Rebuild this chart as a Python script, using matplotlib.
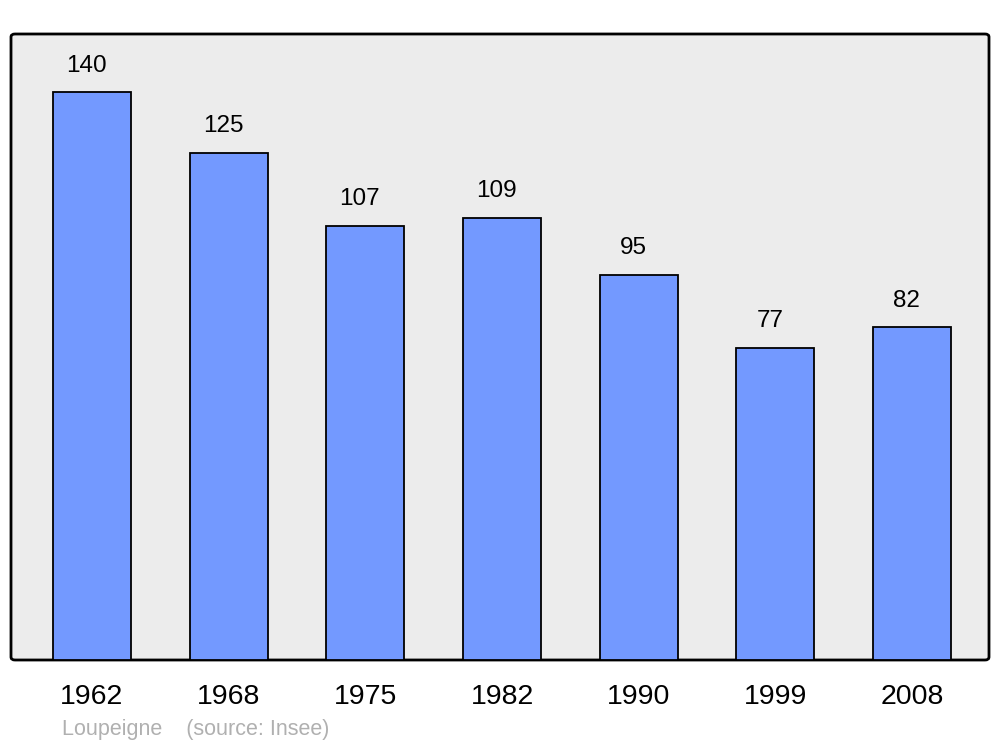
import matplotlib.pyplot as plt
from matplotlib.patches import FancyBboxPatch

years = ["1962", "1968", "1975", "1982", "1990", "1999", "2008"]
population = [140, 125, 107, 109, 95, 77, 82]

plt.rcParams["font.family"] = ["Liberation Sans", "DejaVu Sans"]

W, H = 1000, 747
fig = plt.figure(figsize=(W / 100, H / 100), dpi=100)

# axes box in pixel coordinates (left, top, right, bottom)
left, top, right, bottom = 11, 34, 989, 660
ax = fig.add_axes([left / W, 1 - bottom / H, (right - left) / W, (bottom - top) / H])
ax.set_zorder(2)

frame = FancyBboxPatch(
    (left / W, 1 - bottom / H), (right - left) / W, (bottom - top) / H,
    boxstyle="round,pad=0,rounding_size=0.004",
    transform=fig.transFigure, facecolor="#ececec", edgecolor="black",
    linewidth=2, zorder=0,
)
fig.patches.append(frame)
ax.set_facecolor("none")
for s in ax.spines.values():
    s.set_visible(False)

step = 136.67
x = list(range(len(years)))
ax.bar(x, population, width=78 / step, color="#7399ff", edgecolor="black",
       linewidth=1.3, zorder=2)
for xi, v in zip(x, population):
    ax.annotate(str(v), (xi, v), xytext=(-4, 19), textcoords="offset points",
                ha="center", va="center", fontsize=17.5)

ax.set_xlim((left - 92) / step, (right - 92) / step)
ax.set_ylim(0, 140 * (bottom - top) / (bottom - 92))
ax.set_xticks(x)
ax.set_xticklabels(years, fontsize=20.5)
ax.tick_params(axis="x", length=0, pad=17)
ax.set_yticks([])

fig.text(62 / W, 1 - 730 / H, "Loupeigne    (source: Insee)", color="#b0b0b0",
         fontsize=15.5, va="center", ha="left")

fig.savefig("out.png", dpi=100)
